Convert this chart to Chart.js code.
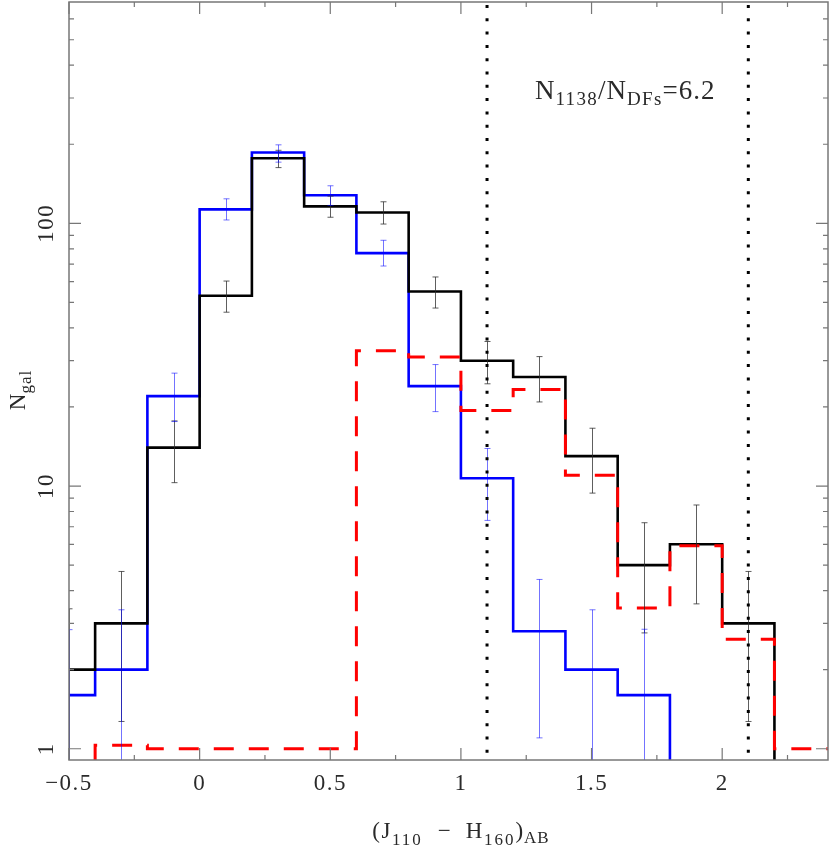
<!DOCTYPE html>
<html><head><meta charset="utf-8">
<script src="https://cdn.jsdelivr.net/npm/chart.js@4/dist/chart.umd.min.js"></script>
<style>html,body{margin:0;padding:0;background:#fff}canvas{display:block}</style>
</head><body>
<canvas id="c" width="830" height="847"></canvas>
<script>
// ---- data ----
const binLeft = [-0.6,-0.4,-0.2,0,0.2,0.4,0.6,0.8,1.0,1.2,1.4,1.6,1.8,2.0,2.2,2.4];
const binWidth = 0.2;
const blackCounts = [2,3,14,53,177,116,110,55,30,26,13,5,6,3,0,0];
const blueCounts  = [1.6,2,22,113,186,128,77,24,10.7,2.8,2,1.6,0,0,0,0];
const redCounts   = [0,1.03,1,1,1,1,32.7,31,19.4,23.3,11,3.43,5.93,2.61,1,1];

const blackErrX  = [-0.5,-0.3,-0.1,0.1,0.3,0.5,0.7,0.9,1.1,1.3,1.5,1.7,1.9,2.1];
const blackErrHi = [3.41,4.73,17.7,60.3,189.7,127,120.8,62.5,35.5,31.1,16.6,7.25,8.47,4.73];
const blackErrLo = [0.6,1.27,10.3,45.9,163,105.5,99.4,47.6,24.5,20.9,9.4,2.76,3.56,1.27];
const blueErrX   = [-0.5,-0.3,-0.1,0.1,0.3,0.5,0.7,0.9,1.1,1.3,1.5,1.7];
const blueErrHi  = [2.84,3.38,26.9,124,199,139,86.2,29,13.9,4.41,3.38,2.85];
const blueErrLo  = [0.36,0.62,17.6,103,171,117,68.8,19.2,7.4,1.1,0.62,0.35];

const cutLines = [1.1, 2.1];
const xTickValues = [-0.5,0,0.5,1,1.5,2];
const xTickLabels = ['\u22120.5','0','0.5','1','1.5','2'];
const xMinorStep = 0.25;
const yTickValues = [1,10,100];
const yTickLabels = ['1','10','100'];

const X_MIN = -0.5, X_MAX = 2.405, Y_MIN = 0.906, Y_MAX = 696;
const FLOOR = 0.3;

function histPoints(counts){
  const pts = [];
  counts.forEach((v,i)=>{
    const y = v > 0 ? v : FLOOR;
    pts.push({x: binLeft[i], y});
    pts.push({x: binLeft[i] + binWidth, y});
  });
  return pts;
}

const SERIF = '"Liberation Serif", "DejaVu Serif", serif';

function drawRich(ctx, segs, x, y, align){
  let total = 0;
  segs.forEach(s=>{ ctx.font = s.font; ctx.letterSpacing = (s.ls||0)+'px'; s.w = ctx.measureText(s.t).width; total += s.w + (s.gap||0); });
  let cx = align === 'center' ? x - total/2 : x;
  ctx.textAlign = 'left';
  ctx.textBaseline = 'alphabetic';
  segs.forEach(s=>{ ctx.font = s.font; ctx.letterSpacing = (s.ls||0)+'px'; ctx.fillText(s.t, cx, y + (s.dy||0)); cx += s.w + (s.gap||0); });
  ctx.letterSpacing = '0px';
}

const axesPlugin = {
  id: 'axesPlugin',
  afterDatasetsDraw(chart){
    const ctx = chart.ctx, a = chart.chartArea;
    const xs = chart.scales.x, ys = chart.scales.y;
    ctx.save();
    // error bars
    ctx.save();
    ctx.beginPath(); ctx.rect(a.left, a.top, a.right-a.left, a.bottom-a.top); ctx.clip();
    function bars(xv, hi, lo, color){
      ctx.strokeStyle = color; ctx.lineWidth = 1;
      xv.forEach((xx,i)=>{
        const px = Math.round(xs.getPixelForValue(xx)) + 0.5;
        const ph = ys.getPixelForValue(hi[i]);
        const pl = ys.getPixelForValue(lo[i]);
        ctx.beginPath();
        ctx.moveTo(px, ph); ctx.lineTo(px, pl);
        ctx.moveTo(px-3, ph); ctx.lineTo(px+3, ph);
        ctx.moveTo(px-3, pl); ctx.lineTo(px+3, pl);
        ctx.stroke();
      });
    }
    bars(blackErrX, blackErrHi, blackErrLo, 'rgba(40,40,40,0.75)');
    bars(blueErrX, blueErrHi, blueErrLo, 'rgba(0,0,255,0.55)');
    // dotted cut lines
    ctx.strokeStyle = '#000'; ctx.lineWidth = 3; ctx.setLineDash([3, 10.3]);
    cutLines.forEach(v=>{
      const px = xs.getPixelForValue(v);
      ctx.beginPath(); ctx.moveTo(px, a.top + 3); ctx.lineTo(px, a.bottom); ctx.stroke();
    });
    ctx.setLineDash([]);
    ctx.restore();

    // frame
    ctx.strokeStyle = '#777'; ctx.lineWidth = 1.5;
    ctx.strokeRect(a.left, a.top, a.right-a.left, a.bottom-a.top);
    // x ticks
    ctx.lineWidth = 1.2;
    for (let v = X_MIN; v <= X_MAX + 1e-9; v += xMinorStep){
      const major = xTickValues.some(t=>Math.abs(t-v)<1e-6);
      const len = major ? 12 : 5;
      const px = xs.getPixelForValue(v);
      ctx.beginPath();
      ctx.moveTo(px, a.bottom); ctx.lineTo(px, a.bottom - len);
      ctx.moveTo(px, a.top); ctx.lineTo(px, a.top + len);
      ctx.stroke();
    }
    // y ticks (log)
    [0.1,1,10,100].forEach(base=>{
      for (let m=1;m<=9;m++){
        const v = m*base;
        if (v < Y_MIN || v > Y_MAX) continue;
        const major = yTickValues.some(t=>Math.abs(t-v)<1e-9);
        const len = major ? 12 : 5;
        const py = ys.getPixelForValue(v);
        ctx.beginPath();
        ctx.moveTo(a.left, py); ctx.lineTo(a.left + len, py);
        ctx.moveTo(a.right, py); ctx.lineTo(a.right - len, py);
        ctx.stroke();
      }
    });
    // tick labels
    ctx.fillStyle = '#2a2a2a';
    ctx.font = '23px ' + SERIF;
    ctx.letterSpacing = '1.5px';
    ctx.textAlign = 'center'; ctx.textBaseline = 'alphabetic';
    xTickValues.forEach((v,i)=>{
      ctx.fillText(xTickLabels[i], xs.getPixelForValue(v), 790);
    });
    yTickValues.forEach((v,i)=>{
      ctx.save();
      ctx.translate(53, ys.getPixelForValue(v));
      ctx.rotate(-Math.PI/2);
      ctx.fillText(yTickLabels[i], 0, 0);
      ctx.restore();
    });
    ctx.letterSpacing = '0px';
    // x title
    const big = '23px ' + SERIF, small = '17px ' + SERIF;
    drawRich(ctx, [
      {t:'(J', font: big, ls:1.5},
      {t:'110', font: small, dy: 7, ls:2, gap: 15},
      {t:'\u2212', font: big, gap: 15},
      {t:'H', font: big, ls:1.5},
      {t:'160', font: small, dy: 7, ls:2},
      {t:')', font: big, ls:1},
      {t:'AB', font: small, dy: 5, ls:1}
    ], 461, 838, 'center');
    // y title
    ctx.save();
    ctx.translate(25, 390);
    ctx.rotate(-Math.PI/2);
    drawRich(ctx, [
      {t:'N', font: big},
      {t:'gal', font: small, dy: 6, ls:1}
    ], 0, 0, 'center');
    ctx.restore();
    // annotation
    const ab = '27px ' + SERIF, as = '19px ' + SERIF;
    drawRich(ctx, [
      {t:'N', font: ab, ls:1},
      {t:'1138', font: as, dy: 6, ls:1.3},
      {t:'/N', font: ab, ls:1},
      {t:'DFs', font: as, dy: 6, ls:1.3},
      {t:'=6.2', font: ab, ls:1}
    ], 535, 99, 'left');
    ctx.restore();
  }
};

new Chart(document.getElementById('c'), {
  type: 'line',
  data: {
    datasets: [
      {label:'red', data: histPoints(redCounts), borderColor:'#ff0000', borderWidth:3, borderDash:[20,15], order:0, clip:0},
      {label:'black', data: histPoints(blackCounts), borderColor:'#000', borderWidth:2.6, order:1, clip:0},
      {label:'blue', data: histPoints(blueCounts), borderColor:'#0000ff', borderWidth:2.6, order:2, clip:0}
    ]
  },
  options: {
    responsive: false,
    animation: false,
    events: [],
    layout: { padding: { left: 69, right: 2, top: 2, bottom: 87 } },
    elements: { point: { radius: 0 }, line: { tension: 0, fill: false, borderCapStyle:'butt', borderJoinStyle:'miter' } },
    plugins: { legend: { display: false }, tooltip: { enabled: false } },
    scales: {
      x: { type: 'linear', min: X_MIN, max: X_MAX, display: false, bounds: 'data' },
      y: { type: 'logarithmic', min: Y_MIN, max: Y_MAX, display: false, bounds: 'data' }
    }
  },
  plugins: [axesPlugin]
});
</script>
</body></html>
